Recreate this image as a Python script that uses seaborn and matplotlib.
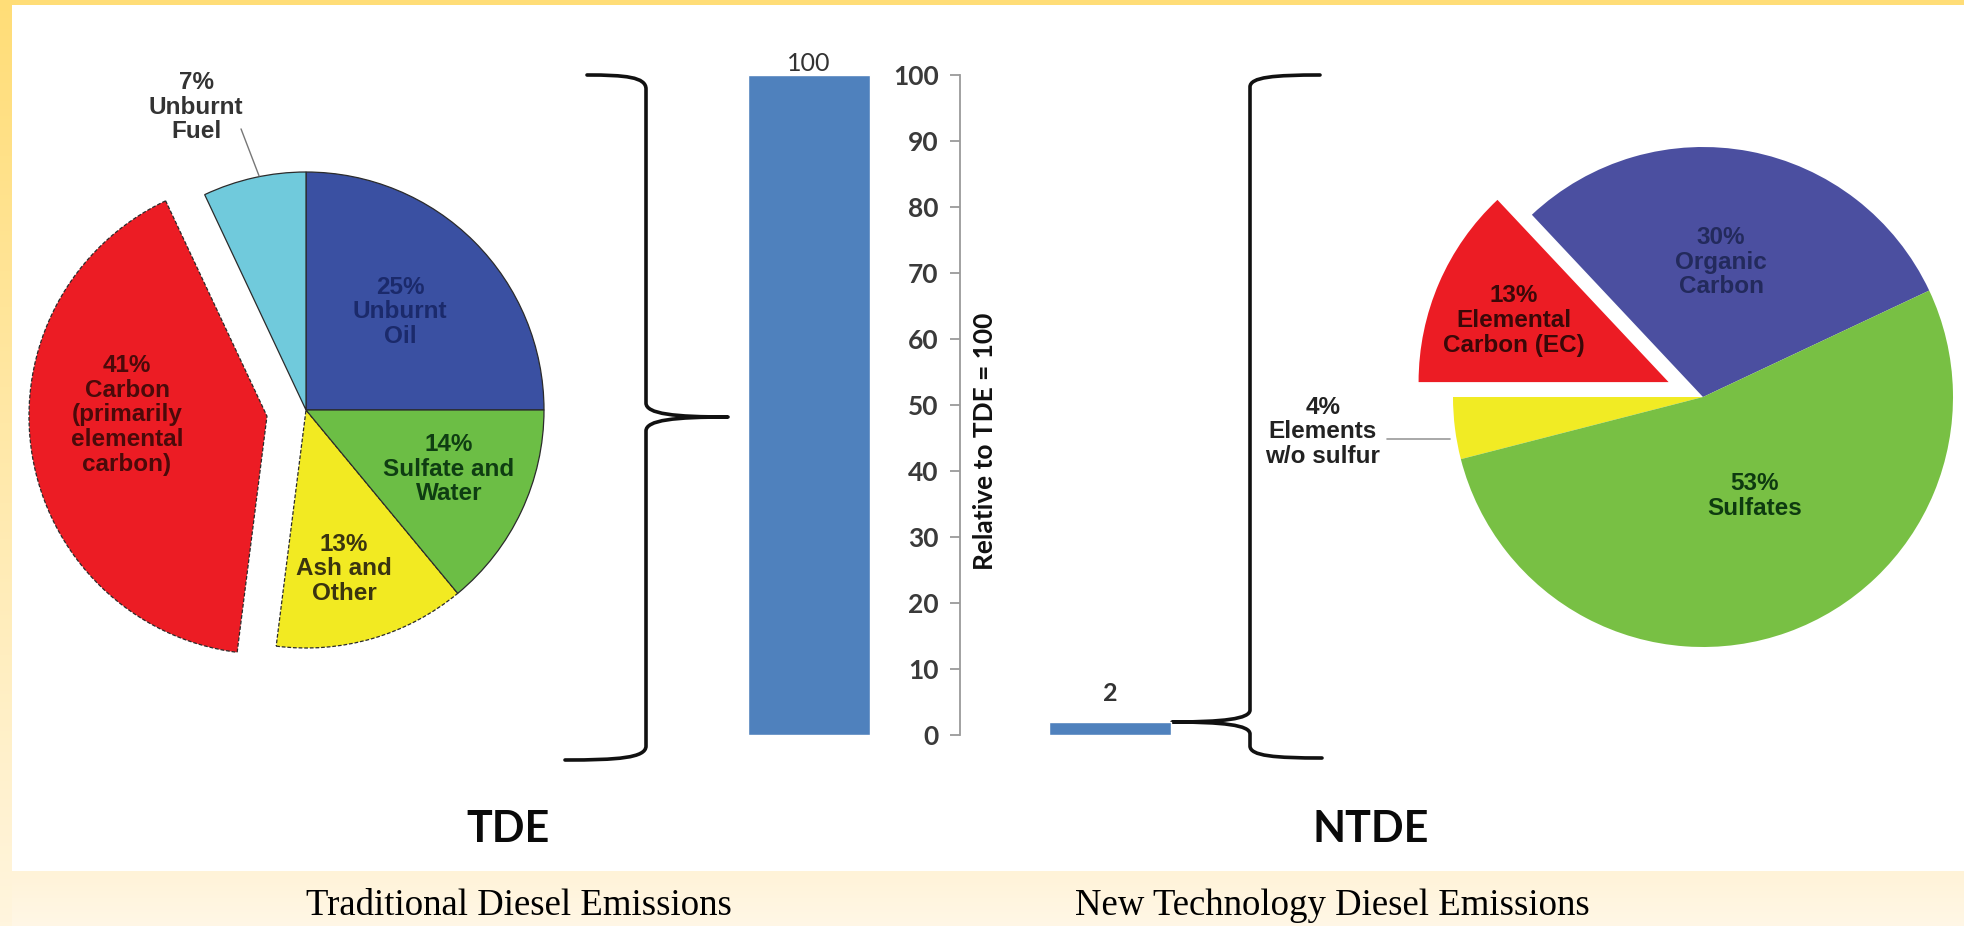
import numpy as np
import pandas as pd
import matplotlib
matplotlib.use("Agg")
import matplotlib.pyplot as plt
from matplotlib.path import Path
from matplotlib.patches import PathPatch, Rectangle
from matplotlib.colors import to_rgb
import seaborn as sns

# ---- data -------------------------------------------------------------
tde_names = ["Unburnt\nOil", "Unburnt\nFuel", "Carbon\n(primarily\nelemental\ncarbon)",
             "Ash and\nOther", "Sulfate and\nWater"]
tde_shares = [25, 7, 41, 13, 14]

ntde_names = ["Organic\nCarbon", "Elemental\nCarbon (EC)", "Elements\nw/o sulfur", "Sulfates"]
ntde_shares = [30, 13, 4, 53]

mass_groups = ["TDE", "NTDE"]
mass_relative = [100, 2]
y_ticks = list(range(0, 101, 10))

group_titles = ["TDE", "NTDE"]
captions = ["Traditional Diesel Emissions", "New Technology Diesel Emissions"]

# ---- style ------------------------------------------------------------
sns.set_theme(style="white")
plt.rcParams["font.family"] = ["Liberation Sans", "DejaVu Sans"]
SANS2 = ["Lato", "DejaVu Sans"]

W, H = 1964, 926
fig = plt.figure(figsize=(W / 100, H / 100), dpi=100)
fig.patch.set_facecolor("#FFF6E1")


def px_axes(left, top, width, height, z=1):
    """Axes placed with pixel coordinates measured from the top-left."""
    return fig.add_axes([left / W, (H - top - height) / H, width / W, height / H], zorder=z)


# ---- page background and frame ------------------------------------------
bg = fig.add_axes([0, 0, 1, 1], zorder=0)
bg.axis("off")


def vgrad(c0, c1, n=256):
    a, b = np.array(to_rgb(c0)), np.array(to_rgb(c1))
    t = np.linspace(0, 1, n)[:, None]
    return (a + (b - a) * t)[:, None, :]


bg.imshow(vgrad("#FFDD77", "#FFF5DE"), extent=[0, 12, H, 0], aspect="auto", zorder=0)
bg.imshow(vgrad("#FFF3D8", "#FFF7E6"), extent=[12, W, H, 871], aspect="auto", zorder=0)
bg.add_patch(Rectangle((0, 0), W, 5, color="#FFDD77", zorder=1, lw=0))
bg.add_patch(Rectangle((12, 5), W - 12, 866, color="white", zorder=1, lw=0))
bg.set_xlim(0, W)
bg.set_ylim(H, 0)


def brace(ax, xv, ytop, ybot, ycusp, xtip, xtop_end, xbot_end, r=14):
    verts = [
        (xtop_end, ytop),
        (xv + (xtop_end - xv) * 0.35, ytop), (xv, ytop + 2), (xv, ytop + r),
        (xv, ycusp - r),
        (xv, ycusp - 3), (xv + (xtip - xv) * 0.35, ycusp), (xtip, ycusp),
        (xv + (xtip - xv) * 0.35, ycusp), (xv, ycusp + 3), (xv, ycusp + r),
        (xv, ybot - r),
        (xv, ybot - 2), (xv + (xbot_end - xv) * 0.35, ybot), (xbot_end, ybot),
    ]
    codes = [Path.MOVETO,
             Path.CURVE4, Path.CURVE4, Path.CURVE4,
             Path.LINETO,
             Path.CURVE4, Path.CURVE4, Path.CURVE4,
             Path.CURVE4, Path.CURVE4, Path.CURVE4,
             Path.LINETO,
             Path.CURVE4, Path.CURVE4, Path.CURVE4]
    ax.add_patch(PathPatch(Path(verts, codes), fill=False, edgecolor="#111111",
                           lw=2.6, capstyle="round", joinstyle="round", zorder=3))


brace(bg, 646, 75, 760, 417, 728, 587, 565)
brace(bg, 1250, 75, 758, 722, 1172, 1320, 1322, r=12)

for x, title in zip([508, 1371], group_titles):
    bg.text(x, 829, title, ha="center", va="center", fontsize=31,
            fontweight="bold", family=SANS2, color="#0a0a0a", zorder=3)
for x, cap in zip([519, 1332], captions):
    bg.text(x, 915, cap, ha="center", va="baseline", fontsize=26.5,
            family=["Liberation Serif", "DejaVu Serif"], color="black", zorder=3)

label_kw = dict(ha="center", va="center", fontsize=17.5, fontweight="bold", linespacing=1.1)

# ---- TDE composition pie ------------------------------------------------
R1, half1 = 238, 340
ax1 = px_axes(306 - half1, 410 - half1, 2 * half1, 2 * half1)
tde_colors = ["#3A50A2", "#70CADC", "#EC1C24", "#F2EA22", "#6CBE45"]
wedges1, _ = ax1.pie(tde_shares, colors=tde_colors, startangle=0, counterclock=True,
                     explode=[0, 0, 0.166, 0, 0],
                     wedgeprops=dict(edgecolor="#2b2b2b", linewidth=0.9))
for w in (wedges1[2], wedges1[3]):
    w.set_linestyle((0, (3, 1.5)))
lim1 = half1 / R1
ax1.set_xlim(-lim1, lim1)
ax1.set_ylim(-lim1, lim1)
ax1.patch.set_alpha(0)

tde_pos = [(0.395, 0.412), (-0.462, 1.273), (-0.752, -0.021), (0.160, -0.668), (0.601, -0.248)]
tde_text_colors = ["#1B2A6B", "#333333", "#4A0A0A", "#3A3410", "#0F3D12"]
for name, v, (x, y), c in zip(tde_names, tde_shares, tde_pos, tde_text_colors):
    ax1.text(x, y, f"{v}%\n{name}", color=c, **label_kw)
ax1.plot([-0.273, -0.197], [1.181, 0.983], color="#777777", lw=1.0, clip_on=False)

# ---- NTDE composition pie -----------------------------------------------
R2, half2 = 250, 340
ax2 = px_axes(1703 - half2, 397 - half2, 2 * half2, 2 * half2)
ntde_colors = ["#4B4FA0", "#EC1C24", "#F1EB24", "#78C044"]
ax2.pie(ntde_shares, colors=ntde_colors, startangle=25.2, counterclock=True,
        explode=[0, 0.15, 0, 0], wedgeprops=dict(linewidth=0))
lim2 = half2 / R2
ax2.set_xlim(-lim2, lim2)
ax2.set_ylim(-lim2, lim2)
ax2.patch.set_alpha(0)

ntde_pos = [(0.072, 0.54), (-0.756, 0.305), (-1.52, -0.14), (0.208, -0.395)]
ntde_text_colors = ["#232A5C", "#3A0808", "#222222", "#0E3A10"]
for name, v, (x, y), c in zip(ntde_names, ntde_shares, ntde_pos, ntde_text_colors):
    ax2.text(x, y, f"{v}%\n{name}", color=c, clip_on=False, **label_kw)
ax2.plot([-1.264, -1.012], [-0.168, -0.168], color="#999999", lw=1.2, clip_on=False)

# ---- relative mass bars --------------------------------------------------
unit = 301
bax = px_axes(809 - unit / 2, 75, 2 * unit, 660, z=2)
df = pd.DataFrame({"group": mass_groups, "relative": mass_relative})
sns.barplot(data=df, x="group", y="relative", color="#4F81BD", saturation=1,
            width=0.405, errorbar=None, ax=bax)
bax.set_xlim(-0.5, 1.5)
bax.set_ylim(0, 100)
bax.patch.set_alpha(0)
for s in ("top", "right", "bottom"):
    bax.spines[s].set_visible(False)
bax.spines["left"].set_position(("data", 0.5))
bax.spines["left"].set_color("#9A9A9A")
bax.spines["left"].set_linewidth(1.3)
bax.set_yticks(y_ticks)
bax.tick_params(axis="y", direction="out", length=7, width=1.3, color="#9A9A9A",
                labelsize=19, labelcolor="#3A3A3A", pad=8, left=True)
for t in bax.get_yticklabels():
    t.set_family(SANS2)
    t.set_fontweight("bold")
bax.set_xticks([])
bax.set_xlabel("")
bax.set_ylabel("")
bax.text(0.585, 44.5, "Relative to TDE = 100", rotation=90, ha="center", va="center",
         fontsize=19, fontweight="bold", family=SANS2, color="#111111")

label_pads = [0, 12]
label_weights = ["normal", "bold"]
for i, (v, pad, fw) in enumerate(zip(mass_relative, label_pads, label_weights)):
    bax.annotate(f"{v}", (i, v), xytext=(0, pad), textcoords="offset points",
                 ha="center", va="bottom", fontsize=18, color="#333333",
                 fontweight=fw, family=SANS2, annotation_clip=False)

fig.savefig("out.png", dpi=100, facecolor=fig.get_facecolor())
